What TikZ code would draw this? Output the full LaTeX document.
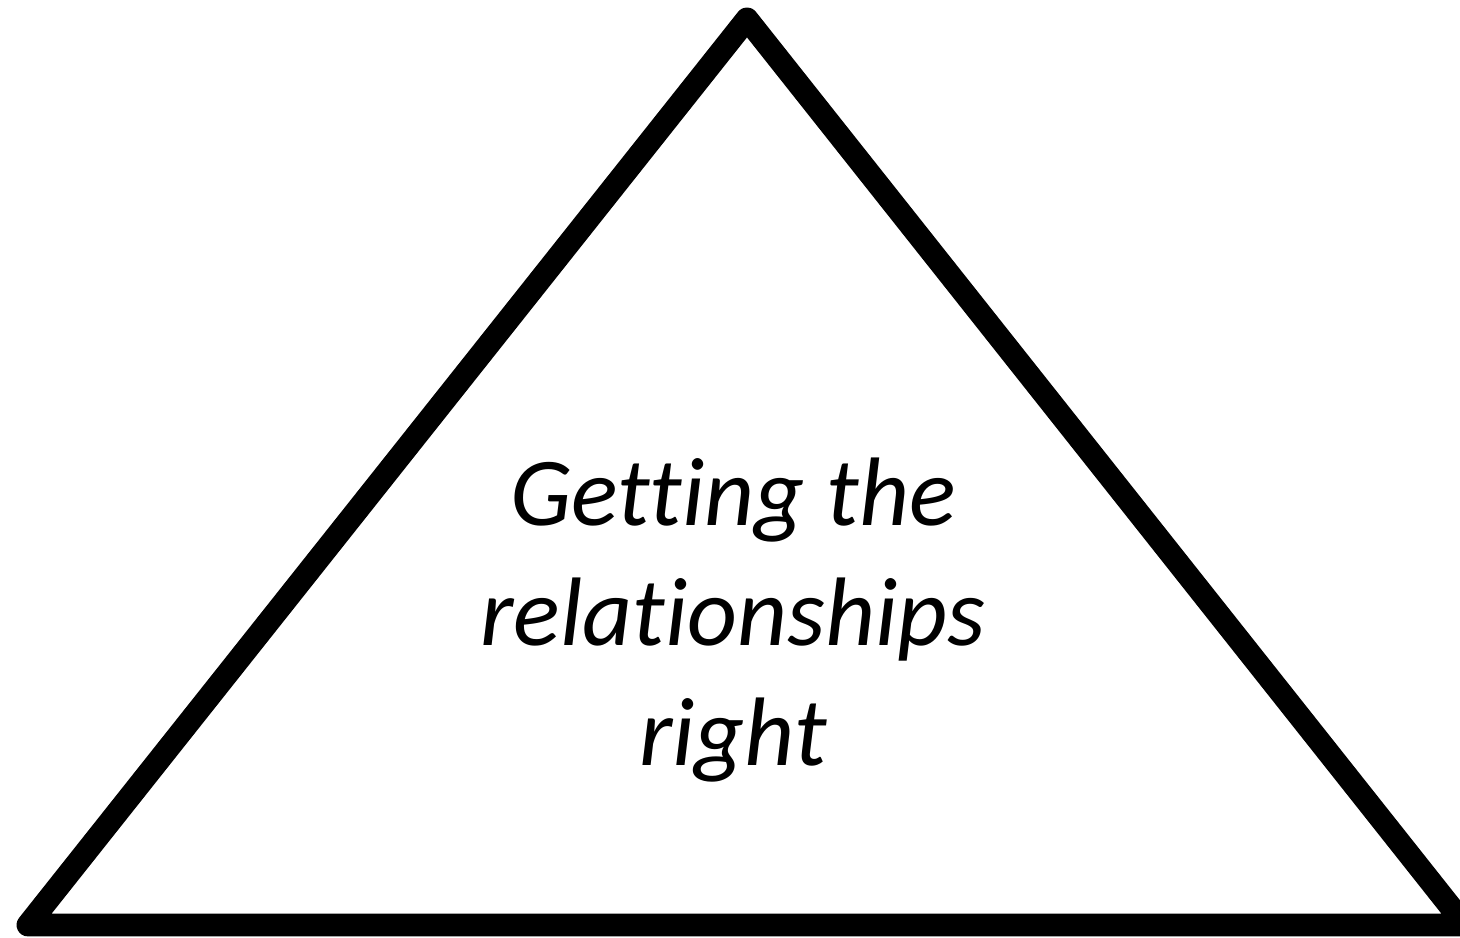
\documentclass[tikz,border=0pt]{standalone}
\usepackage{fontspec}
\setmainfont{Carlito}[Ligatures={NoCommon}]
\usetikzlibrary{calc}
\usepackage{tkz-euclide}

\begin{document}
\begin{tikzpicture}
\useasboundingbox (0,0) rectangle (14.6,9.38);
\tkzSetUpLine[line width=6.5pt,color=black]

\tkzDefPoints{0.28/0.13/B,7.47/9.19/A,14.65/0.13/C}
\tkzDefPoints{7.33/3.18/T}

\tkzDrawPolygon[line join=round](A,B,C)

\node[align=center,font=\fontsize{27.7}{34.1}\selectfont\itshape] (label) at (T)
  {Getting the\\relationships\\right};

\end{tikzpicture}
\end{document}
